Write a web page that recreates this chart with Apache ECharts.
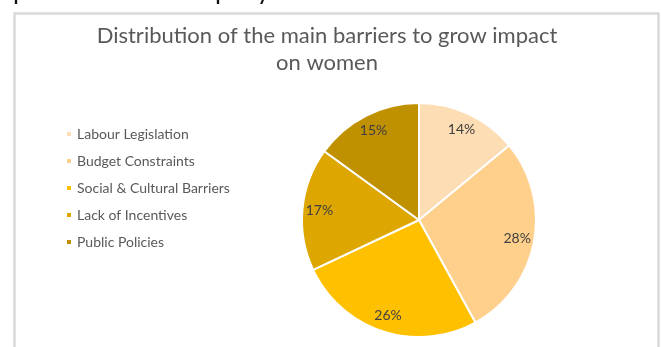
<!DOCTYPE html>
<html>
<head>
<meta charset="utf-8">
<script src="https://cdn.jsdelivr.net/npm/echarts@6/dist/echarts.min.js"></script>
<style>
  html, body { margin: 0; padding: 0; background: #ffffff; }
  #chart { width: 661px; height: 347px; }
</style>
</head>
<body>
<div id="chart"></div>
<script>
// Main barriers and their share (%)
const categories = [
  'Labour Legislation',
  'Budget Constraints',
  'Social & Cultural Barriers',
  'Lack of Incentives',
  'Public Policies'
];
const shares = [14, 28, 26, 17, 15];
const sliceColors = ['#FDDDB4', '#FED08B', '#FFC000', '#DDA600', '#BF9000'];

const pieData = categories.map((name, i) => ({
  name: name,
  value: shares[i],
  itemStyle: { color: sliceColors[i] }
}));

const chart = echarts.init(document.getElementById('chart'), null, { renderer: 'canvas' });

chart.setOption({
  animation: false,
  backgroundColor: '#ffffff',
  color: sliceColors,
  title: {
    text: 'Distribution of the main barriers to grow impact\non women',
    left: 322,
    textAlign: 'center',
    top: 17,
    textStyle: {
      fontFamily: 'Lato',
      fontSize: 22,
      fontWeight: 'normal',
      color: '#595959',
      lineHeight: 27
    }
  },
  legend: {
    orient: 'vertical',
    left: 60,
    top: 122,
    icon: 'rect',
    itemWidth: 6,
    itemHeight: 6,
    itemGap: 13,
    data: categories,
    textStyle: {
      fontFamily: 'Lato',
      fontSize: 14,
      color: '#595959'
    }
  },
  graphic: [
    {
      // frame around the chart area
      type: 'rect',
      shape: { x: 14.5, y: 13.5, width: 644, height: 400 },
      style: { fill: 'none', stroke: '#d9d9d9', lineWidth: 2.5 },
      silent: true,
      z: -10
    },
    {
      // last line of the paragraph above the chart
      type: 'text',
      x: 13,
      y: 4,
      silent: true,
      style: {
        text: 'profile of the company.',
        font: '26px Lato',
        fill: '#111111',
        verticalAlign: 'bottom'
      }
    }
  ],
  series: [
    {
      type: 'pie',
      center: [419, 220],
      radius: [0, 117],
      startAngle: 90,
      clockwise: true,
      data: pieData,
      label: { show: false },
      labelLine: { show: false },
      itemStyle: { borderColor: '#ffffff', borderWidth: 2 },
      emphasis: { disabled: true }
    },
    {
      // transparent ring carrying the value labels
      type: 'pie',
      center: [419, 220],
      radius: [77, 117],
      startAngle: 90,
      clockwise: true,
      silent: true,
      data: categories.map((name, i) => ({ name: name, value: shares[i] })),
      itemStyle: { color: 'rgba(0,0,0,0)' },
      label: {
        show: true,
        position: 'inside',
        formatter: '{c}%',
        fontFamily: 'Lato',
        fontSize: 14,
        color: '#404040'
      },
      labelLine: { show: false },
      emphasis: { disabled: true }
    }
  ]
});
</script>
</body>
</html>
